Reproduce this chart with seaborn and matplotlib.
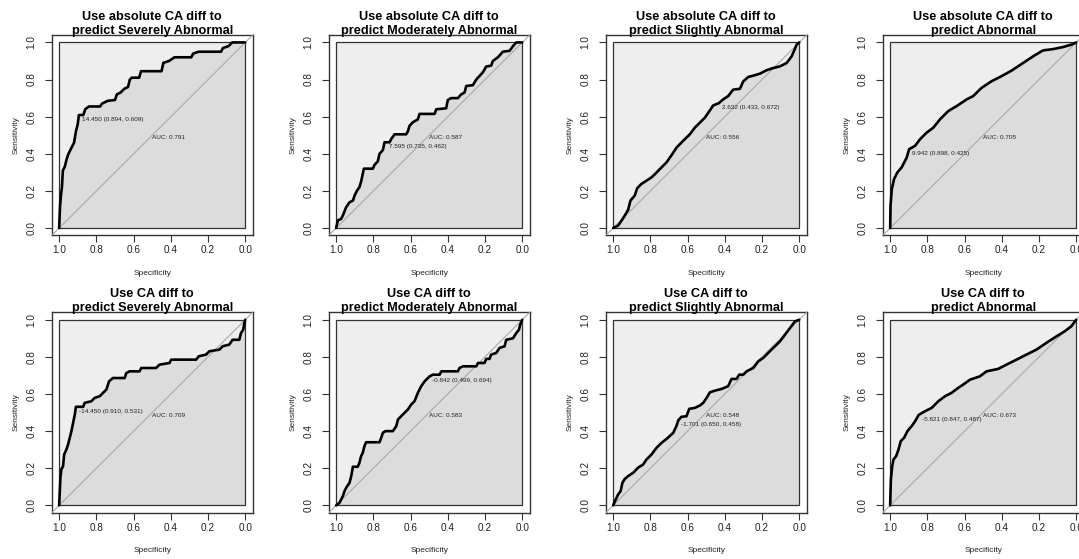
import matplotlib
matplotlib.use("Agg")
import matplotlib.pyplot as plt
from matplotlib.patches import Rectangle, Polygon
import seaborn as sns

TITLES = [
    "Use absolute CA diff to\npredict Severely Abnormal",
    "Use absolute CA diff to\npredict Moderately Abnormal",
    "Use absolute CA diff to\npredict Slightly Abnormal",
    "Use absolute CA diff to\npredict Abnormal",
    "Use CA diff to\npredict Severely Abnormal",
    "Use CA diff to\npredict Moderately Abnormal",
    "Use CA diff to\npredict Slightly Abnormal",
    "Use CA diff to\npredict Abnormal",
]
AUC = [0.791, 0.587, 0.556, 0.705, 0.709, 0.583, 0.548, 0.673]
THR_VALUE = [14.450, 7.595, 2.632, 9.942, -14.450, -0.842, -1.701, -5.821]
THR_SPEC = [0.894, 0.735, 0.433, 0.898, 0.910, 0.499, 0.650, 0.847]
THR_SENS = [0.609, 0.462, 0.672, 0.425, 0.531, 0.694, 0.458, 0.487]

abs_sev_spec = [1.0, 0.995, 0.99, 0.985, 0.98, 0.97, 0.96, 0.95, 0.94, 0.93, 0.92, 0.91, 0.90, 0.894,
                0.87, 0.86, 0.84, 0.78, 0.77, 0.74, 0.70, 0.69, 0.67, 0.65, 0.63, 0.62, 0.61, 0.57,
                0.56, 0.45, 0.44, 0.41, 0.38, 0.29, 0.28, 0.25, 0.13, 0.12, 0.09, 0.07, 0.0]
abs_sev_sens = [0.0, 0.12, 0.18, 0.22, 0.31, 0.33, 0.37, 0.40, 0.42, 0.44, 0.46, 0.52, 0.56, 0.609,
                0.609, 0.64, 0.655, 0.655, 0.67, 0.685, 0.69, 0.72, 0.73, 0.75, 0.76, 0.80, 0.81, 0.81,
                0.845, 0.845, 0.89, 0.90, 0.92, 0.92, 0.94, 0.95, 0.95, 0.97, 0.98, 1.0, 1.0]

abs_mod_spec = [1.0, 0.991, 0.973, 0.964, 0.946, 0.928, 0.910, 0.901, 0.889, 0.875, 0.866, 0.851, 0.803,
                0.794, 0.776, 0.767, 0.749, 0.74, 0.713, 0.704, 0.686, 0.624, 0.615, 0.606, 0.588, 0.561,
                0.552, 0.471, 0.462, 0.409, 0.4, 0.382, 0.346, 0.328, 0.31, 0.301, 0.265, 0.247, 0.229,
                0.211, 0.194, 0.167, 0.158, 0.131, 0.104, 0.068, 0.05, 0.032, 0.0]
abs_mod_sens = [0.0, 0.041, 0.05, 0.068, 0.113, 0.139, 0.148, 0.175, 0.2, 0.22, 0.25, 0.32, 0.32,
                0.34, 0.36, 0.40, 0.42, 0.462, 0.462, 0.48, 0.505, 0.505, 0.52, 0.55, 0.57, 0.585,
                0.615, 0.615, 0.64, 0.645, 0.69, 0.70, 0.70, 0.72, 0.73, 0.765, 0.77, 0.80, 0.82,
                0.84, 0.87, 0.875, 0.90, 0.92, 0.95, 0.955, 0.98, 1.0, 1.0]

abs_sli_spec = [1.0, 0.973, 0.955, 0.937, 0.919, 0.907, 0.884, 0.871, 0.848, 0.821, 0.794, 0.776, 0.749,
                0.713, 0.686, 0.659, 0.624, 0.588, 0.561, 0.534, 0.507, 0.489, 0.462, 0.433, 0.409,
                0.382, 0.355, 0.319, 0.301, 0.274, 0.247, 0.211, 0.176, 0.14, 0.104, 0.068, 0.041,
                0.029, 0.014, 0.0]
abs_sli_sens = [0.0, 0.014, 0.04, 0.068, 0.10, 0.148, 0.175, 0.214, 0.238, 0.255, 0.273, 0.29, 0.318,
                0.354, 0.393, 0.434, 0.47, 0.505, 0.541, 0.568, 0.595, 0.621, 0.661, 0.672, 0.693,
                0.711, 0.746, 0.75, 0.79, 0.814, 0.821, 0.832, 0.85, 0.862, 0.871, 0.889, 0.925,
                0.952, 0.988, 1.0]

abs_abn_spec = [1.0, 0.998, 0.991, 0.979, 0.961, 0.938, 0.911, 0.898, 0.866, 0.839, 0.804, 0.768, 0.732,
                0.688, 0.643, 0.589, 0.554, 0.509, 0.455, 0.402, 0.348, 0.286, 0.232, 0.179, 0.125,
                0.071, 0.027, 0.0]
abs_abn_sens = [0.0, 0.121, 0.21, 0.264, 0.30, 0.327, 0.38, 0.425, 0.443, 0.479, 0.514, 0.541, 0.586,
                0.63, 0.657, 0.693, 0.711, 0.755, 0.791, 0.818, 0.848, 0.889, 0.925, 0.957, 0.964,
                0.975, 0.988, 1.0]

ca_sev_spec = [1.0, 0.993, 0.988, 0.979, 0.973, 0.961, 0.952, 0.943, 0.934, 0.925, 0.916, 0.910, 0.871,
               0.863, 0.827, 0.809, 0.782, 0.764, 0.746, 0.732, 0.711, 0.648, 0.639, 0.621, 0.568,
               0.559, 0.479, 0.461, 0.407, 0.398, 0.264, 0.25, 0.211, 0.193, 0.139, 0.121, 0.086,
               0.068, 0.032, 0.023, 0.011, 0.005, 0.0]
ca_sev_sens = [0.0, 0.151, 0.194, 0.211, 0.274, 0.301, 0.328, 0.364, 0.40, 0.444, 0.489, 0.531, 0.531,
               0.552, 0.561, 0.579, 0.588, 0.606, 0.624, 0.668, 0.686, 0.686, 0.713, 0.722, 0.722,
               0.74, 0.74, 0.758, 0.767, 0.785, 0.785, 0.803, 0.812, 0.83, 0.839, 0.857, 0.866,
               0.892, 0.892, 0.928, 0.946, 0.982, 1.0]

ca_mod_spec = [1.0, 0.982, 0.973, 0.964, 0.955, 0.943, 0.928, 0.919, 0.91, 0.884, 0.875, 0.866, 0.857,
               0.848, 0.839, 0.767, 0.758, 0.749, 0.735, 0.695, 0.677, 0.668, 0.651, 0.633, 0.615,
               0.597, 0.579, 0.561, 0.543, 0.525, 0.499, 0.48, 0.444, 0.435, 0.346, 0.337, 0.319,
               0.247, 0.238, 0.203, 0.194, 0.176, 0.167, 0.14, 0.122, 0.095, 0.086, 0.05, 0.032,
               0.018, 0.011, 0.0]
ca_mod_sens = [0.0, 0.014, 0.032, 0.05, 0.077, 0.10, 0.122, 0.158, 0.208, 0.208, 0.229, 0.265, 0.283,
               0.319, 0.34, 0.34, 0.364, 0.391, 0.40, 0.40, 0.427, 0.462, 0.48, 0.498, 0.516,
               0.543, 0.561, 0.606, 0.642, 0.668, 0.694, 0.704, 0.704, 0.722, 0.722, 0.74, 0.749,
               0.749, 0.767, 0.767, 0.789, 0.789, 0.812, 0.821, 0.848, 0.857, 0.892, 0.90, 0.928,
               0.946, 0.973, 1.0]

ca_sli_spec = [1.0, 0.986, 0.973, 0.96, 0.95, 0.937, 0.919, 0.892, 0.866, 0.839, 0.821, 0.794, 0.767,
               0.74, 0.713, 0.677, 0.659, 0.65, 0.633, 0.606, 0.591, 0.561, 0.534, 0.516, 0.498,
               0.48, 0.453, 0.418, 0.382, 0.364, 0.337, 0.323, 0.301, 0.283, 0.247, 0.22, 0.194,
               0.167, 0.14, 0.104, 0.077, 0.05, 0.023, 0.0]
ca_sli_sens = [0.0, 0.032, 0.059, 0.077, 0.122, 0.143, 0.158, 0.176, 0.203, 0.22, 0.247, 0.274, 0.31,
               0.337, 0.358, 0.391, 0.43, 0.458, 0.477, 0.48, 0.52, 0.525, 0.538, 0.552, 0.579,
               0.609, 0.618, 0.627, 0.642, 0.681, 0.681, 0.704, 0.704, 0.722, 0.74, 0.776, 0.794,
               0.821, 0.848, 0.883, 0.919, 0.955, 0.991, 1.0]

ca_abn_spec = [1.0, 0.996, 0.989, 0.982, 0.968, 0.955, 0.943, 0.925, 0.907, 0.884, 0.866, 0.847, 0.813,
               0.777, 0.741, 0.705, 0.67, 0.634, 0.607, 0.571, 0.518, 0.482, 0.42, 0.375, 0.321,
               0.268, 0.214, 0.161, 0.107, 0.063, 0.027, 0.0]
ca_abn_sens = [0.0, 0.14, 0.211, 0.247, 0.265, 0.301, 0.346, 0.364, 0.40, 0.427, 0.453, 0.487, 0.507,
               0.525, 0.561, 0.588, 0.606, 0.633, 0.651, 0.677, 0.695, 0.722, 0.735, 0.758, 0.785,
               0.812, 0.839, 0.875, 0.91, 0.937, 0.964, 1.0]

CURVES = [
    (abs_sev_spec, abs_sev_sens), (abs_mod_spec, abs_mod_sens),
    (abs_sli_spec, abs_sli_sens), (abs_abn_spec, abs_abn_sens),
    (ca_sev_spec, ca_sev_sens), (ca_mod_spec, ca_mod_sens),
    (ca_sli_spec, ca_sli_sens), (ca_abn_spec, ca_abn_sens),
]

sns.set_theme(style="white")
plt.rcParams["font.family"] = ["Liberation Sans", "DejaVu Sans"]

W, H = 1079, 559
fig = plt.figure(figsize=(W / 100, H / 100), dpi=100)

for i, (spec, sens) in enumerate(CURVES):
    row, col = divmod(i, 4)
    left = 51.7 + 277 * col
    top = 35 + 277.3 * row
    ax = fig.add_axes([left / W, 1 - (top + 200.5) / H, 201 / W, 200.5 / H])
    ax.set_xlim(1.04, -0.04)
    ax.set_ylim(-0.04, 1.04)

    # max AUC square and AUC polygon
    ax.add_patch(Rectangle((0, 0), 1, 1, facecolor="#EEEEEE", edgecolor="none", zorder=1))
    ax.add_patch(Polygon(list(zip(spec, sens)) + [(0, 0)], closed=True,
                         facecolor="gainsboro", edgecolor="none", zorder=2))
    ax.add_patch(Rectangle((0, 0), 1, 1, facecolor="none", edgecolor="#333333", lw=0.9, zorder=3))

    # identity line across the whole plot region
    ax.plot([1.04, -0.04], [-0.04, 1.04], color="darkgrey", lw=0.8, zorder=3)

    sns.lineplot(x=spec, y=sens, sort=False, estimator=None, color="black", lw=1.9, ax=ax, zorder=4)

    ax.text(0.5, 0.5, f"AUC: {AUC[i]:.3f}", ha="left", va="top", fontsize=4.6, color="#222222", zorder=5)
    ax.annotate(f"{THR_VALUE[i]:.3f} ({THR_SPEC[i]:.3f}, {THR_SENS[i]:.3f})",
                xy=(THR_SPEC[i], THR_SENS[i]), xytext=(2.2, -3.2), textcoords="offset points",
                ha="left", va="center", fontsize=4.6, color="#222222", zorder=5)

    ticks = [0.0, 0.2, 0.4, 0.6, 0.8, 1.0]
    ax.set_xticks(ticks)
    ax.set_yticks(ticks)
    ax.set_xticklabels([f"{t:.1f}" for t in ticks])
    ax.set_yticklabels([f"{t:.1f}" for t in ticks], rotation=90, va="center")
    ax.tick_params(axis="both", direction="out", length=4.7, width=0.8, color="#333333",
                   labelsize=7.2, labelcolor="#222222", bottom=True, left=True)
    ax.tick_params(axis="x", pad=2.5)
    ax.tick_params(axis="y", pad=6.2)
    for s in ax.spines.values():
        s.set_color("#333333")
        s.set_linewidth(1.0)

    ax.set_xlabel("Specificity", fontsize=6.0, color="#222222")
    ax.set_ylabel("Sensitivity", fontsize=6.0, color="#222222")
    ax.xaxis.set_label_coords(0.5, -0.188)
    ax.yaxis.set_label_coords(-0.178, 0.5)
    ax.xaxis.label.set_va("center")
    ax.yaxis.label.set_va("center")

    ax.set_title(TITLES[i], fontsize=9.2, fontweight="bold", pad=1.0, color="black")

fig.savefig("out.png", dpi=100)
